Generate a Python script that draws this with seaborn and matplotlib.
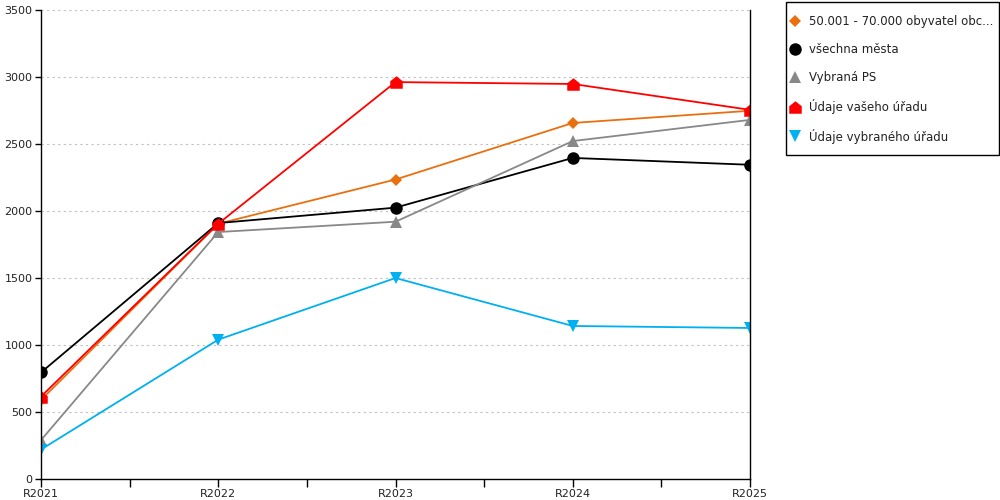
import matplotlib
matplotlib.use('Agg')
import matplotlib.pyplot as plt
from matplotlib.patches import Rectangle
import seaborn as sns
import pandas as pd

years = ['R2021', 'R2022', 'R2023', 'R2024', 'R2025']
series_names = ['50.001 - 70.000 obyvatel obc...', 'všechna města', 'Vybraná PS',
                'Údaje vašeho úřadu', 'Údaje vybraného úřadu']
obce = [590, 1905, 2235, 2657, 2748]
mesta = [795, 1910, 2025, 2396, 2345]
vybrana_ps = [290, 1843, 1920, 2522, 2680]
vas_urad = [615, 1905, 2962, 2948, 2755]
vybrany_urad = [220, 1040, 1500, 1142, 1127]
yticks = [0, 500, 1000, 1500, 2000, 2500, 3000, 3500]

values = [obce, mesta, vybrana_ps, vas_urad, vybrany_urad]
rows = []
for name, vals in zip(series_names, values):
    for yr, v in zip(years, vals):
        rows.append({'rok': yr, 'serie': name, 'hodnota': v})
df = pd.DataFrame(rows)

house = [(-1, -1), (1, -1), (1, 0.2), (0, 1), (-1, 0.2), (-1, -1)]
colors = dict(zip(series_names, ['#E8700F', '#000000', '#888888', '#FF0000', '#00B0F0']))
markers = dict(zip(series_names, ['D', 'o', '^', house, 'v']))
msizes = [6, 9, 9, 9, 9]

sns.set_style('white')
plt.rcParams['font.family'] = ['DejaVu Sans']
fig = plt.figure(figsize=(10, 5), dpi=100)
ax = fig.add_axes([0.041, 0.042, 0.709, 0.938])

sns.lineplot(data=df, x='rok', y='hodnota', hue='serie', style='serie',
             hue_order=series_names, style_order=series_names,
             palette=colors, markers=markers, dashes=False, sort=False,
             linewidth=1.3, markeredgewidth=0, ax=ax)

# marker sizes per series
for line, ms in zip(ax.lines, msizes):
    line.set_markersize(ms)

ax.set_xlim(0, 4)
ax.set_ylim(0, 3500)
ax.set_yticks(yticks)
ax.set_xticks(range(len(years)))
ax.set_xticklabels(years)
ax.set_xticks([0.5, 1.5, 2.5, 3.5], minor=True)
ax.tick_params(axis='x', which='both', bottom=True, direction='out', length=6, width=1,
               color='black', labelsize=8, pad=1, labelcolor='#222222')
ax.tick_params(axis='y', left=True, direction='out', length=4, width=1, color='black',
               labelsize=8, pad=2, labelcolor='#222222')
ax.set_xlabel('')
ax.set_ylabel('')
ax.yaxis.grid(True, linestyle=(0, (2, 3)), color='#C0C0C0', linewidth=0.8)
ax.xaxis.grid(False)
for side in ['left', 'bottom', 'right']:
    ax.spines[side].set_visible(True)
    ax.spines[side].set_color('black')
    ax.spines[side].set_linewidth(1)
ax.spines['top'].set_visible(False)

handles, labels = ax.get_legend_handles_labels()
for h, ms in zip(handles, msizes):
    h.set_linestyle('none')
    h.set_markersize(ms)
leg = ax.legend(handles, labels, loc='upper left', bbox_to_anchor=(0.7925, 0.969),
                bbox_transform=fig.transFigure, frameon=False,
                fontsize=8.5, labelspacing=1.25, handlelength=0.5, handletextpad=0.9,
                borderpad=0, borderaxespad=0)
for t in leg.get_texts():
    t.set_color('#222222')

# legend frame (wider padding top/bottom than sides, as in the original)
fig.add_artist(Rectangle((0.786, 0.69), 0.213, 0.306, transform=fig.transFigure,
                         fill=False, edgecolor='black', linewidth=1))

fig.savefig('out.png', dpi=100)
